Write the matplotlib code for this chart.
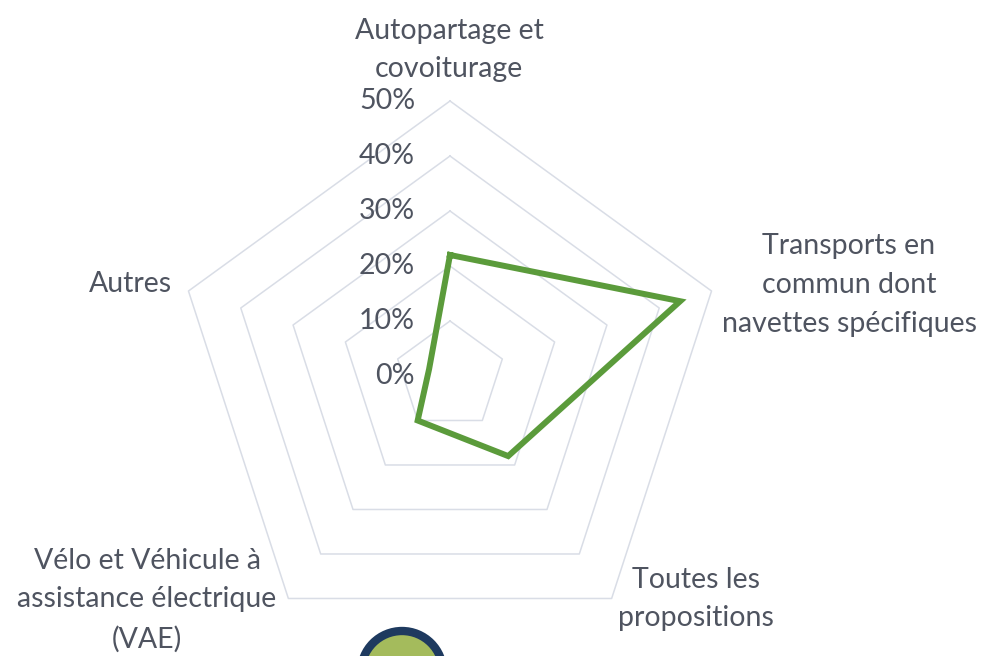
import numpy as np
import matplotlib.pyplot as plt
from matplotlib.patches import Circle

plt.rcParams["font.family"] = ["Lato", "DejaVu Sans"]

# data
categories = ["Autopartage et\ncovoiturage",
              "Transports en\ncommun dont\nnavettes spécifiques",
              "Toutes les\npropositions",
              "Vélo et Véhicule à\nassistance électrique\n(VAE)",
              "Autres"]
values = [0.22, 0.44, 0.18, 0.10, 0.04]
ticks = [0.0, 0.1, 0.2, 0.3, 0.4, 0.5]
tick_labels = ["0%", "10%", "20%", "30%", "40%", "50%"]

# label anchor positions in pixels (x, y from top)
label_pos = [(449, 50), (849, 285), (696, 599), (147, 600), (130, 284)]

TEXT = "#4f5460"
GRID = "#d9dde6"
GREEN = "#5b9b3b"
W, H = 988, 656
FS = 20.5

fig = plt.figure(figsize=(W / 100, H / 100), dpi=100)
cx, cy, R = 450, 376, 275
ax = fig.add_axes([(cx - R) / W, (H - cy - R) / H, 2 * R / W, 2 * R / H],
                  projection="polar")
ax.set_theta_offset(np.pi / 2)
ax.set_theta_direction(-1)
ax.set_ylim(0, 0.5)
ax.grid(False)
ax.spines["polar"].set_visible(False)
ax.set_xticks([]); ax.set_yticks([])
ax.patch.set_alpha(0)

n = len(categories)
ang = np.linspace(0, 2 * np.pi, n, endpoint=False)
ang_c = np.append(ang, ang[0])

for r in ticks[1:]:
    ax.plot(ang_c, [r] * (n + 1), color=GRID, lw=1.1, zorder=1, clip_on=False)

vals_c = np.append(values, values[0])
ax.plot(ang_c, vals_c, color=GREEN, lw=4.3, solid_joinstyle="miter", zorder=3,
        clip_on=False)

for r, lab in zip(ticks, tick_labels):
    ax.annotate(lab, xy=(0, r), xytext=(-35, 0), textcoords="offset pixels",
                ha="right", va="center", fontsize=FS, color=TEXT,
                annotation_clip=False)

for lab, (x, y) in zip(categories, label_pos):
    fig.text(x / W, 1 - y / H, lab, ha="center", va="center", fontsize=FS,
             color=TEXT, linespacing=1.6)

# logo fragment at bottom (cut by the figure edge)
fig.patches.append(Circle((4.02, (H - 672) / 100), 0.41, transform=fig.dpi_scale_trans,
                          facecolor="#a4bb5c", edgecolor="#1e3a5f", lw=6))

fig.savefig("out.png", dpi=100)
